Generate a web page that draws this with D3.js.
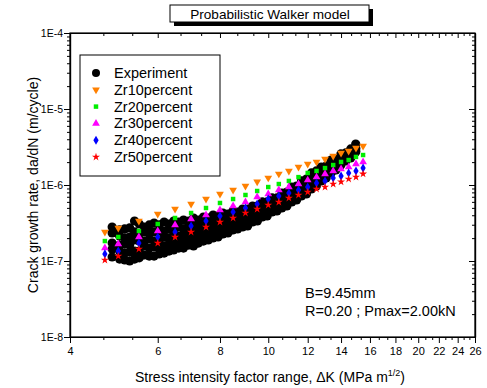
<!DOCTYPE html>
<html>
<head>
<meta charset="utf-8">
<script src="https://cdn.jsdelivr.net/npm/d3@7"></script>
<style>
  body { margin: 0; background: #fff; }
  text { font-family: Arial, "Liberation Sans", sans-serif; fill: #000; }
</style>
</head>
<body>
<svg id="chart" width="487" height="388"></svg>
<script>
// axis ticks
const xTickValues = [4, 6, 8, 10, 12, 14, 16, 18, 20, 22, 24, 26];
const yTickValues = [1e-8, 1e-7, 1e-6, 1e-5, 1e-4];
const yTickLabels = ["1E-8", "1E-7", "1E-6", "1E-5", "1E-4"];

// model curves (same dK grid for all)
const modelDK = [4.7, 5.0, 5.5, 6.0, 6.5, 7.0, 7.5, 8.0, 8.5, 9.0, 9.5, 10.0, 10.5, 11.0, 11.5, 12.0, 12.5, 13.0, 13.5, 14.0, 14.5, 15.0, 15.5];
const zr10 = [2.41e-7, 2.72e-7, 3.36e-7, 4.15e-7, 4.83e-7, 5.62e-7, 6.54e-7, 7.62e-7, 8.6e-7, 9.7e-7, 1.10e-6, 1.24e-6, 1.40e-6, 1.53e-6, 1.72e-6, 1.89e-6, 2.01e-6, 2.20e-6, 2.41e-6, 2.64e-6, 2.80e-6, 3.07e-6, 3.26e-6];
const zr20 = [1.83e-7, 2.07e-7, 2.48e-7, 3.07e-7, 3.68e-7, 4.28e-7, 4.98e-7, 5.80e-7, 6.54e-7, 7.39e-7, 8.34e-7, 9.4e-7, 1.03e-6, 1.13e-6, 1.27e-6, 1.44e-6, 1.53e-6, 1.67e-6, 1.83e-6, 2.01e-6, 2.13e-6, 2.34e-6, 2.48e-6];
const zr30 = [1.48e-7, 1.67e-7, 2.07e-7, 2.48e-7, 2.98e-7, 3.57e-7, 4.03e-7, 4.69e-7, 5.29e-7, 5.97e-7, 6.95e-7, 7.62e-7, 8.6e-7, 9.4e-7, 1.03e-6, 1.16e-6, 1.27e-6, 1.40e-6, 1.53e-6, 1.62e-6, 1.72e-6, 1.89e-6, 2.01e-6];
const zr40 = [1.24e-7, 1.35e-7, 1.72e-7, 2.07e-7, 2.41e-7, 2.89e-7, 3.36e-7, 3.91e-7, 4.41e-7, 4.98e-7, 5.62e-7, 6.54e-7, 7.17e-7, 7.85e-7, 8.6e-7, 9.4e-7, 1.06e-6, 1.13e-6, 1.24e-6, 1.31e-6, 1.44e-6, 1.53e-6, 1.67e-6];
const zr50 = [1.03e-7, 1.16e-7, 1.44e-7, 1.72e-7, 2.07e-7, 2.41e-7, 2.80e-7, 3.26e-7, 3.68e-7, 4.28e-7, 4.83e-7, 5.46e-7, 5.97e-7, 6.75e-7, 7.39e-7, 8.09e-7, 8.86e-7, 9.4e-7, 1.03e-6, 1.10e-6, 1.20e-6, 1.27e-6, 1.40e-6];

const expDK = [4.86, 5.03, 5.15, 5.27, 5.39, 5.51, 5.64, 5.77, 5.90, 6.04, 6.18, 6.32, 6.46, 6.61, 6.76, 6.92, 7.08, 7.24, 7.41, 7.58,
  7.75, 7.93, 8.11, 8.30, 8.49, 8.68, 8.88, 9.09, 9.30, 9.51, 9.73, 9.95, 10.18, 10.41, 10.65, 10.90, 11.15, 11.40, 11.66, 11.93,
  12.21, 12.49, 12.77, 13.07, 13.37, 13.67, 13.99, 14.31, 14.64, 14.98];
const expS1 = [2.80e-7, 2.56e-7, 2.64e-7, 2.72e-7, 3.36e-7, 3.07e-7, 2.80e-7, 2.98e-7, 3.16e-7, 2.98e-7,
  3.26e-7, 3.07e-7, 3.36e-7, 3.26e-7, 3.46e-7, 3.36e-7, 3.68e-7, 3.46e-7, 3.79e-7, 3.68e-7,
  4.03e-7, 3.91e-7, 4.28e-7, 4.15e-7, 4.55e-7, 4.41e-7, 4.83e-7, 4.83e-7, 5.29e-7, 5.29e-7,
  5.98e-7, 5.98e-7, 6.75e-7, 6.75e-7, 7.85e-7, 8.09e-7, 9.41e-7, 9.70e-7, 1.13e-6, 1.20e-6,
  1.44e-6, 1.53e-6, 1.72e-6, 1.78e-6, 2.13e-6, 2.20e-6, 2.56e-6, 2.64e-6, 2.98e-6, 3.46e-6];
const expS2 = [2.34e-7, 2.13e-7, 2.01e-7, 2.07e-7, 2.41e-7, 2.27e-7, 2.41e-7, 2.34e-7, 2.41e-7, 2.48e-7,
  2.48e-7, 2.64e-7, 2.56e-7, 2.80e-7, 2.64e-7, 2.89e-7, 2.89e-7, 3.07e-7, 2.98e-7, 3.26e-7,
  3.16e-7, 3.46e-7, 3.46e-7, 3.79e-7, 3.68e-7, 4.03e-7, 4.03e-7, 4.55e-7, 4.41e-7, 4.98e-7,
  4.98e-7, 5.62e-7, 5.80e-7, 6.35e-7, 6.75e-7, 7.61e-7, 7.85e-7, 9.13e-7, 9.41e-7, 1.13e-6,
  1.20e-6, 1.44e-6, 1.48e-6, 1.67e-6, 1.83e-6, 2.13e-6, 2.27e-6, 2.56e-6, 2.64e-6, 3.07e-6];
const expS3 = [1.72e-7, 1.62e-7, 1.67e-7, 1.62e-7, 1.89e-7, 1.83e-7, 1.83e-7, 1.95e-7, 1.83e-7, 1.89e-7,
  2.07e-7, 2.01e-7, 2.20e-7, 2.13e-7, 2.27e-7, 2.27e-7, 2.48e-7, 2.41e-7, 2.64e-7, 2.64e-7,
  2.80e-7, 2.80e-7, 3.07e-7, 3.07e-7, 3.36e-7, 3.36e-7, 3.68e-7, 3.79e-7, 4.15e-7, 4.15e-7,
  4.69e-7, 4.83e-7, 5.45e-7, 5.45e-7, 5.98e-7, 6.54e-7, 7.39e-7, 7.85e-7, 8.86e-7, 9.41e-7,
  1.13e-6, 1.20e-6, 1.40e-6, 1.48e-6, 1.72e-6, 1.83e-6, 2.07e-6, 2.27e-6, 2.56e-6, 2.98e-6];
const expS4 = [1.44e-7, 1.35e-7, 1.27e-7, 1.31e-7, 1.35e-7, 1.35e-7, 1.58e-7, 1.48e-7, 1.53e-7, 1.48e-7,
  1.58e-7, 1.67e-7, 1.67e-7, 1.83e-7, 1.78e-7, 1.95e-7, 1.95e-7, 2.13e-7, 2.07e-7, 2.34e-7,
  2.27e-7, 2.48e-7, 2.48e-7, 2.80e-7, 2.80e-7, 3.07e-7, 3.07e-7, 3.46e-7, 3.46e-7, 3.91e-7,
  4.03e-7, 4.55e-7, 4.69e-7, 5.14e-7, 5.29e-7, 6.16e-7, 6.35e-7, 7.39e-7, 7.61e-7, 8.86e-7,
  9.41e-7, 1.13e-6, 1.20e-6, 1.40e-6, 1.48e-6, 1.78e-6, 1.95e-6, 2.20e-6, 2.34e-6, 2.80e-6];
const expS5 = [1.13e-7, 1.06e-7, 1.03e-7, 1.00e-7, 1.06e-7, 1.10e-7, 1.20e-7, 1.16e-7, 1.16e-7, 1.24e-7,
  1.27e-7, 1.35e-7, 1.40e-7, 1.48e-7, 1.48e-7, 1.62e-7, 1.58e-7, 1.72e-7, 1.83e-7, 1.89e-7,
  2.01e-7, 2.07e-7, 2.27e-7, 2.34e-7, 2.56e-7, 2.64e-7, 2.80e-7, 2.89e-7, 3.26e-7, 3.36e-7,
  3.79e-7, 3.91e-7, 4.41e-7, 4.55e-7, 4.98e-7, 5.29e-7, 5.98e-7, 6.35e-7, 7.17e-7, 7.61e-7,
  8.86e-7, 9.70e-7, 1.13e-6, 1.24e-6, 1.44e-6, 1.58e-6, 1.83e-6, 2.07e-6, 2.27e-6, 2.72e-6];

const legendNames = ["Experiment", "Zr10percent", "Zr20percent", "Zr30percent", "Zr40percent", "Zr50percent"];

const plotL = 70, plotR = 475, plotT = 33, plotB = 337;

const svg = d3.select("#chart");
const x = d3.scaleLog().domain([4, 26]).range([plotL, plotR]);
const y = d3.scaleLog().domain([1e-8, 1e-4]).range([plotB, plotT]);

// minor ticks
const xMinor = [];
for (let v = 4; v < 26; v += 2) xMinor.push(v + 2 / 3, v + 4 / 3);
const yMinor = [];
[1e-8, 1e-7, 1e-6, 1e-5].forEach(d => { for (let k = 2; k <= 9; k++) yMinor.push(d * k); });

// axes
const axisStyle = fs => g => {
  g.select(".domain").attr("stroke", "#000").attr("stroke-width", 1.2);
  g.selectAll(".tick line").attr("stroke", "#000");
  g.selectAll(".tick text").attr("font-size", fs).attr("fill", "#000")
    .attr("font-family", "Arial, 'Liberation Sans', sans-serif");
};
svg.append("g").attr("transform", `translate(0,${plotB})`)
  .call(d3.axisBottom(x).tickValues(xTickValues).tickFormat(d3.format("d")).tickSize(6).tickSizeOuter(0).tickPadding(4))
  .call(axisStyle(11));
svg.append("g").attr("transform", `translate(0,${plotB})`)
  .call(d3.axisBottom(x).tickValues(xMinor).tickFormat("").tickSize(3).tickSizeOuter(0))
  .call(axisStyle(11));
svg.append("g").attr("transform", `translate(0,${plotT})`)
  .call(d3.axisBottom(x).tickValues(xTickValues).tickFormat("").tickSize(5).tickSizeOuter(0))
  .call(axisStyle(11));
svg.append("g").attr("transform", `translate(0,${plotT})`)
  .call(d3.axisBottom(x).tickValues(xMinor).tickFormat("").tickSize(3).tickSizeOuter(0))
  .call(axisStyle(11));
svg.append("g").attr("transform", `translate(${plotL},0)`)
  .call(d3.axisLeft(y).tickValues(yTickValues).tickFormat((d, i) => yTickLabels[i]).tickSize(6).tickSizeOuter(0).tickPadding(1))
  .call(axisStyle(10.5));
svg.append("g").attr("transform", `translate(${plotL},0)`)
  .call(d3.axisLeft(y).tickValues(yMinor).tickFormat("").tickSize(3).tickSizeOuter(0))
  .call(axisStyle(10.5));
svg.append("g").attr("transform", `translate(${plotR},0)`)
  .call(d3.axisLeft(y).tickValues(yTickValues).tickFormat("").tickSize(6).tickSizeOuter(0))
  .call(axisStyle(10.5));
svg.append("g").attr("transform", `translate(${plotR},0)`)
  .call(d3.axisLeft(y).tickValues(yMinor).tickFormat("").tickSize(3).tickSizeOuter(0))
  .call(axisStyle(10.5));

// experiment dots
const expPts = [];
[expS1, expS2, expS3, expS4, expS5].forEach(s => s.forEach((v, i) => expPts.push([expDK[i], v])));
svg.append("g").selectAll("circle").data(expPts).join("circle")
  .attr("cx", d => x(d[0])).attr("cy", d => y(d[1])).attr("r", 4.6).attr("fill", "#000");

// model series
const series = [
  { vals: zr10, color: "#ff8000", sym: d3.symbolTriangle, size: 26, rot: 180 },
  { vals: zr20, color: "#00ee00", sym: d3.symbolSquare, size: 20, rot: 0 },
  { vals: zr30, color: "#ff00ff", sym: d3.symbolTriangle, size: 26, rot: 0 },
  { vals: zr40, color: "#0000ff", sym: d3.symbolDiamond, size: 24, rot: 0 },
  { vals: zr50, color: "#ff0000", sym: d3.symbolStar, size: 20, rot: 0 }
];
series.forEach(s => {
  svg.append("g").selectAll("path").data(s.vals).join("path")
    .attr("d", d3.symbol().type(s.sym).size(s.size))
    .attr("fill", s.color)
    .attr("transform", (d, i) => `translate(${x(modelDK[i])},${y(d)}) rotate(${s.rot})`);
});

// plot frame
svg.append("rect").attr("x", plotL).attr("y", plotT).attr("width", plotR - plotL).attr("height", plotB - plotT)
  .attr("fill", "none").attr("stroke", "#000").attr("stroke-width", 1.2);

// legend
const lg = svg.append("g").attr("transform", "translate(80,55)");
lg.append("rect").attr("width", 140).attr("height", 121).attr("fill", "#fff").attr("stroke", "#000");
legendNames.forEach((name, i) => {
  const ry = 18 + i * 16.8;
  if (i === 0) {
    lg.append("circle").attr("cx", 16).attr("cy", ry).attr("r", 4).attr("fill", "#000");
  } else {
    const s = series[i - 1];
    lg.append("path").attr("d", d3.symbol().type(s.sym).size(s.size)())
      .attr("fill", s.color).attr("transform", `translate(16,${ry}) rotate(${s.rot})`);
  }
  lg.append("text").attr("x", 34).attr("y", ry + 5).attr("font-size", 14.5).text(name);
});

// title box with shadow
const tb = svg.append("g");
tb.append("rect").attr("x", 174).attr("y", 9).attr("width", 199).attr("height", 17).attr("fill", "#000");
tb.append("rect").attr("x", 170).attr("y", 5).attr("width", 199).attr("height", 17).attr("fill", "#fff").attr("stroke", "#000");
tb.append("text").attr("x", 270).attr("y", 18.5).attr("text-anchor", "middle").attr("font-size", 13.6).text("Probabilistic Walker model");

// annotations
svg.append("text").attr("x", 305).attr("y", 298).attr("font-size", 14.5).text("B=9.45mm");
svg.append("text").attr("x", 305).attr("y", 316).attr("font-size", 14.5).text("R=0.20 ; Pmax=2.00kN");

// axis titles
svg.append("text").attr("transform", `translate(38,${(plotT + plotB) / 2}) rotate(-90)`)
  .attr("text-anchor", "middle").attr("font-size", 14).text("Crack growth rate, da/dN (m/cycle)");
const xl = svg.append("text").attr("x", 270).attr("y", 382).attr("text-anchor", "middle").attr("font-size", 14);
xl.append("tspan").text("Stress intensity factor range, \u0394K (MPa m");
xl.append("tspan").attr("dy", -6).attr("font-size", 9).text("1/2");
xl.append("tspan").attr("dy", 6).text(")");
</script>
</body>
</html>
